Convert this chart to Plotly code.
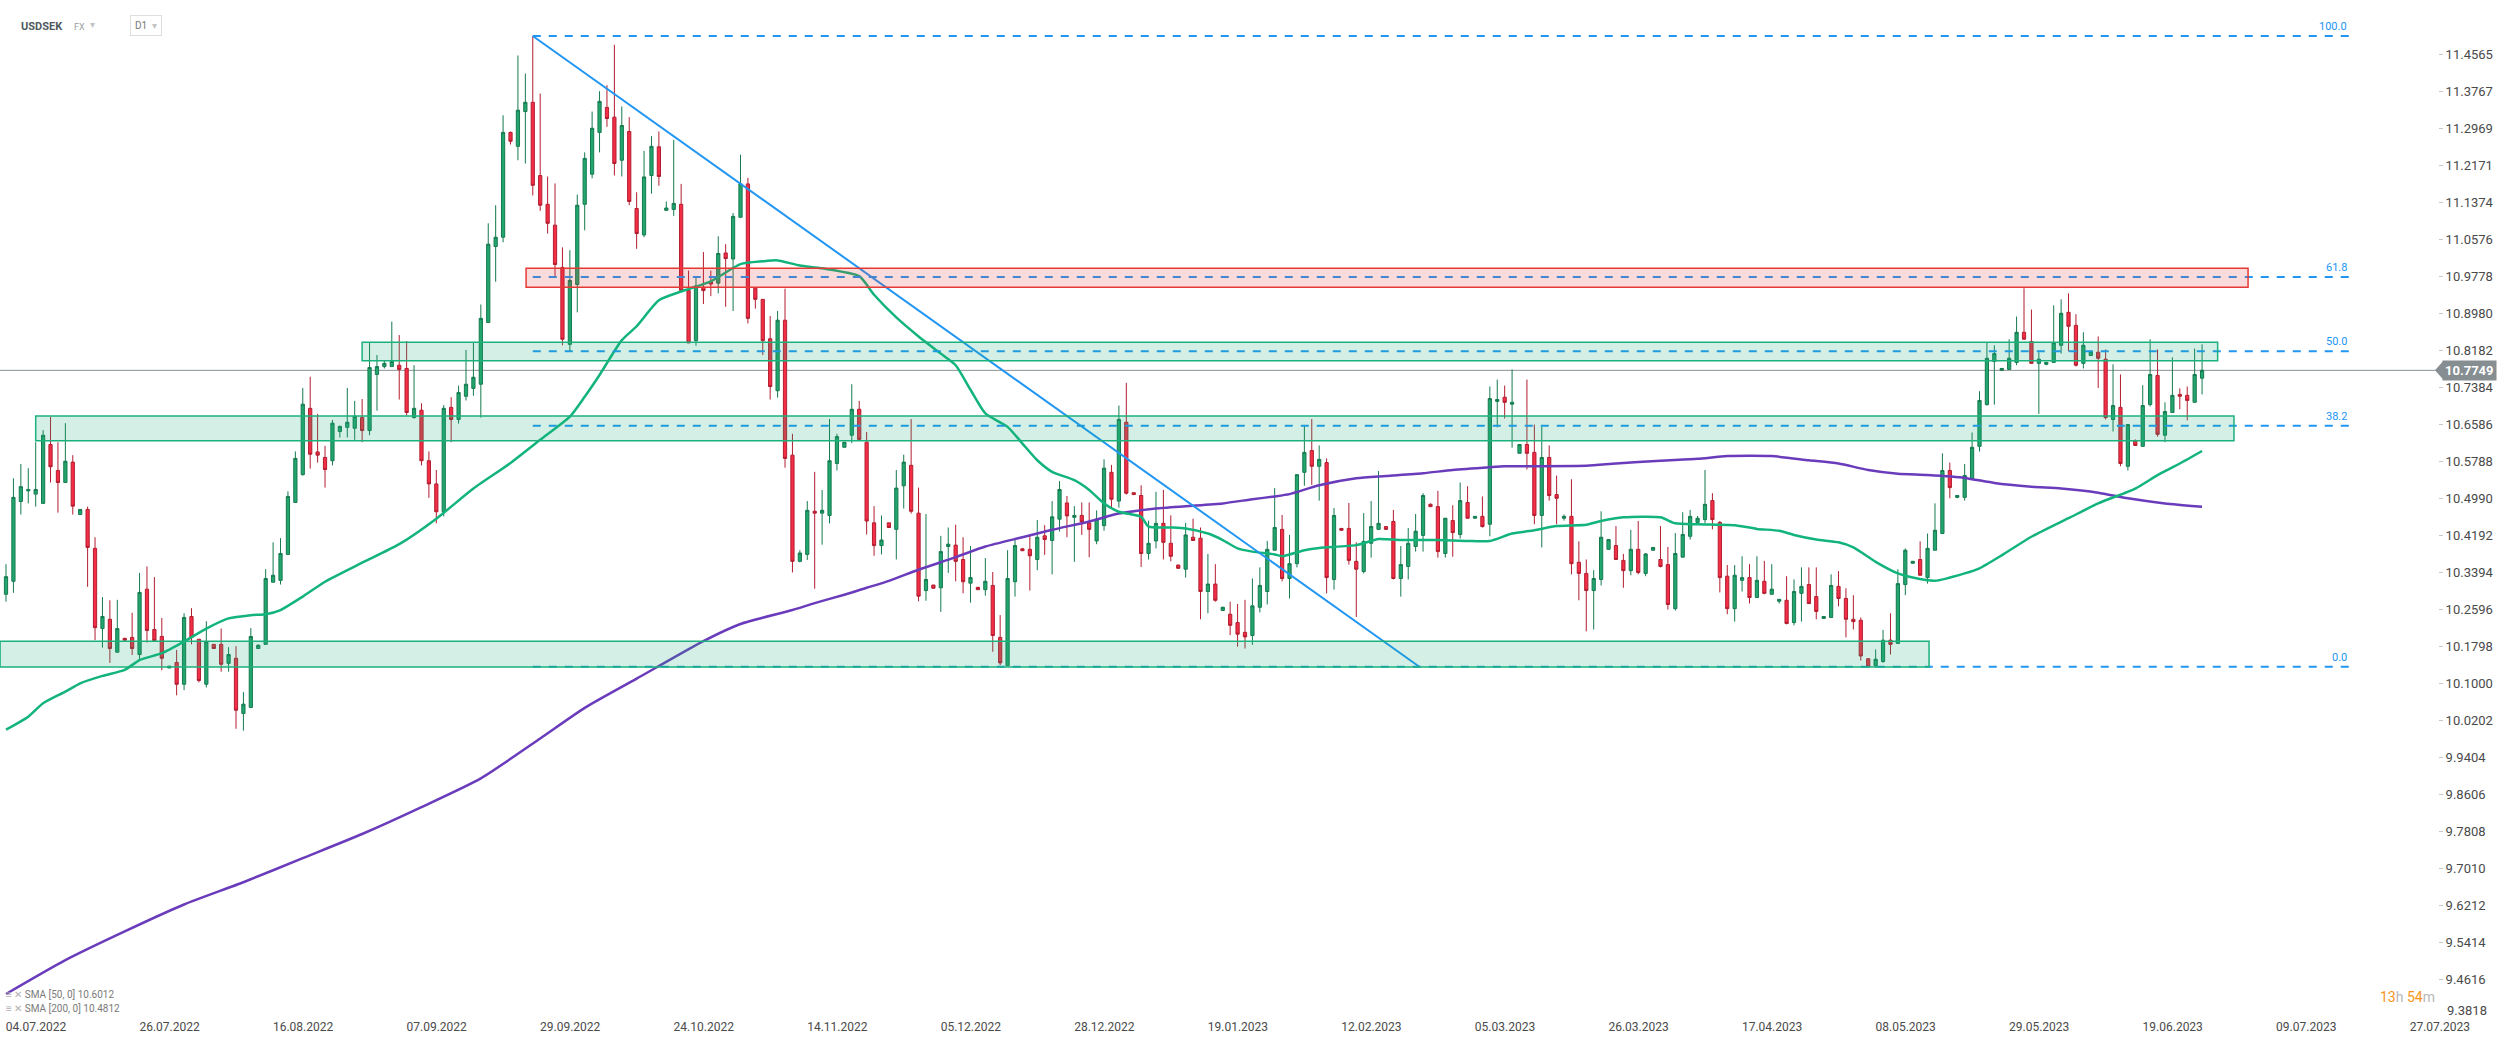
import plotly.graph_objects as go

# ---------------- data ----------------
symbol = "USDSEK"
market = "FX"
interval = "D1"

opens = [
    10.292, 10.320, 10.492, 10.515, 10.508, 10.488, 10.615, 10.559, 10.533, 10.577,
    10.464, 10.475, 10.391, 10.218, 10.238, 10.167, 10.197, 10.199, 10.162, 10.303,
    10.216, 10.201, 10.133, 10.145, 10.098, 10.244, 10.195, 10.098, 10.184, 10.184,
    10.143, 10.154, 10.035, 10.048, 10.175, 10.184, 10.318, 10.322, 10.378, 10.490,
    10.550, 10.693, 10.599, 10.587, 10.580, 10.643, 10.652, 10.650, 10.673, 10.645,
    10.766, 10.783, 10.783, 10.786, 10.779, 10.673, 10.689, 10.580, 10.530, 10.470,
    10.695, 10.669, 10.719, 10.736, 10.745, 10.878, 11.042, 11.062, 11.288, 11.258,
    11.333, 11.353, 11.195, 11.133, 11.088, 10.997, 10.831, 10.960, 11.133, 11.198,
    11.288, 11.342, 11.321, 11.228, 11.290, 11.124, 11.067, 11.195, 11.257, 11.120,
    11.122, 11.133, 10.947, 10.839, 10.954, 10.966, 10.963, 11.028, 11.015, 11.105,
    11.177, 10.952, 10.928, 10.843, 10.731, 10.883, 10.592, 10.363, 10.378, 10.471,
    10.467, 10.462, 10.574, 10.609, 10.635, 10.691, 10.620, 10.446, 10.397, 10.446,
    10.432, 10.526, 10.570, 10.467, 10.300, 10.312, 10.306, 10.395, 10.398, 10.367,
    10.316, 10.307, 10.302, 10.311, 10.199, 10.138, 10.319, 10.390, 10.389, 10.367,
    10.418, 10.408, 10.454, 10.489, 10.458, 10.462, 10.446, 10.407, 10.440, 10.555,
    10.493, 10.663, 10.511, 10.505, 10.380, 10.407, 10.445, 10.402, 10.355, 10.346,
    10.415, 10.413, 10.298, 10.314, 10.257, 10.249, 10.231, 10.210, 10.203, 10.264,
    10.298, 10.387, 10.432, 10.326, 10.358, 10.555, 10.602, 10.568, 10.576, 10.324,
    10.434, 10.434, 10.363, 10.341, 10.402, 10.432, 10.438, 10.449, 10.326, 10.352,
    10.395, 10.419, 10.486, 10.481, 10.380, 10.451, 10.421, 10.490, 10.456, 10.460,
    10.443, 10.708, 10.717, 10.702, 10.596, 10.615, 10.598, 10.462, 10.587, 10.507,
    10.456, 10.460, 10.361, 10.337, 10.300, 10.324, 10.389, 10.397, 10.365, 10.343,
    10.389, 10.337, 10.387, 10.367, 10.356, 10.261, 10.372, 10.417, 10.447, 10.453,
    10.494, 10.447, 10.331, 10.261, 10.322, 10.328, 10.285, 10.320, 10.292, 10.277,
    10.279, 10.231, 10.294, 10.313, 10.287, 10.240, 10.242, 10.309, 10.283, 10.238,
    10.236, 10.153, 10.138, 10.147, 10.193, 10.186, 10.313, 10.359, 10.367, 10.328,
    10.387, 10.423, 10.559, 10.501, 10.501, 10.540, 10.611, 10.701, 10.794, 10.775,
    10.777, 10.792, 10.857, 10.837, 10.790, 10.788, 10.792, 10.829, 10.900, 10.872,
    10.790, 10.807, 10.814, 10.799, 10.669, 10.695, 10.568, 10.622, 10.611, 10.701,
    10.764, 10.635, 10.684, 10.723, 10.721, 10.706, 10.758,
]

highs = [
    10.357, 10.542, 10.573, 10.564, 10.620, 10.646, 10.675, 10.620, 10.661, 10.592,
    10.475, 10.481, 10.415, 10.286, 10.279, 10.280, 10.198, 10.252, 10.338, 10.352,
    10.329, 10.241, 10.137, 10.172, 10.251, 10.262, 10.195, 10.234, 10.184, 10.218,
    10.178, 10.180, 10.081, 10.219, 10.184, 10.346, 10.404, 10.413, 10.514, 10.600,
    10.737, 10.761, 10.681, 10.612, 10.668, 10.656, 10.737, 10.709, 10.713, 10.834,
    10.808, 10.795, 10.880, 10.851, 10.838, 10.786, 10.704, 10.600, 10.560, 10.700,
    10.717, 10.742, 10.819, 10.835, 10.917, 11.092, 11.131, 11.325, 11.290, 11.454,
    11.415, 11.496, 11.372, 11.193, 11.178, 11.040, 11.034, 11.154, 11.245, 11.333,
    11.377, 11.390, 11.477, 11.344, 11.321, 11.159, 11.248, 11.280, 11.290, 11.139,
    11.272, 11.177, 10.990, 10.977, 11.030, 10.990, 11.064, 11.047, 11.114, 11.240,
    11.190, 10.952, 10.928, 10.892, 10.903, 10.951, 10.638, 10.387, 10.493, 10.556,
    10.517, 10.670, 10.638, 10.620, 10.745, 10.709, 10.642, 10.482, 10.462, 10.446,
    10.560, 10.593, 10.670, 10.522, 10.465, 10.312, 10.418, 10.436, 10.442, 10.415,
    10.396, 10.308, 10.370, 10.340, 10.247, 10.387, 10.409, 10.392, 10.420, 10.452,
    10.441, 10.493, 10.536, 10.504, 10.482, 10.490, 10.490, 10.473, 10.583, 10.571,
    10.699, 10.748, 10.511, 10.527, 10.451, 10.513, 10.517, 10.462, 10.356, 10.446,
    10.455, 10.436, 10.379, 10.357, 10.265, 10.276, 10.271, 10.280, 10.326, 10.350,
    10.407, 10.521, 10.463, 10.420, 10.550, 10.656, 10.670, 10.613, 10.585, 10.478,
    10.435, 10.489, 10.404, 10.467, 10.493, 10.558, 10.439, 10.474, 10.396, 10.435,
    10.465, 10.510, 10.488, 10.515, 10.456, 10.484, 10.533, 10.525, 10.460, 10.503,
    10.740, 10.755, 10.742, 10.777, 10.615, 10.755, 10.658, 10.654, 10.613, 10.548,
    10.464, 10.540, 10.406, 10.367, 10.344, 10.471, 10.411, 10.439, 10.379, 10.431,
    10.450, 10.381, 10.394, 10.439, 10.394, 10.424, 10.469, 10.474, 10.461, 10.560,
    10.510, 10.450, 10.355, 10.355, 10.374, 10.357, 10.374, 10.364, 10.357, 10.281,
    10.331, 10.324, 10.350, 10.350, 10.350, 10.245, 10.335, 10.342, 10.305, 10.290,
    10.242, 10.153, 10.173, 10.215, 10.251, 10.346, 10.391, 10.364, 10.406, 10.423,
    10.488, 10.596, 10.576, 10.506, 10.573, 10.641, 10.730, 10.835, 10.829, 10.780,
    10.842, 10.891, 10.952, 10.906, 10.814, 10.793, 10.915, 10.928, 10.941, 10.896,
    10.857, 10.816, 10.848, 10.820, 10.788, 10.766, 10.658, 10.626, 10.743, 10.842,
    10.820, 10.706, 10.803, 10.736, 10.740, 10.822, 10.831,
]

lows = [
    10.276, 10.295, 10.464, 10.488, 10.481, 10.488, 10.533, 10.468, 10.533, 10.464,
    10.464, 10.308, 10.193, 10.177, 10.144, 10.167, 10.192, 10.161, 10.149, 10.188,
    10.192, 10.128, 10.133, 10.074, 10.085, 10.184, 10.102, 10.091, 10.175, 10.125,
    10.125, 10.002, 9.998, 10.048, 10.175, 10.184, 10.318, 10.313, 10.378, 10.490,
    10.548, 10.563, 10.576, 10.522, 10.570, 10.630, 10.630, 10.625, 10.620, 10.635,
    10.688, 10.779, 10.783, 10.712, 10.678, 10.671, 10.570, 10.500, 10.445, 10.460,
    10.620, 10.660, 10.710, 10.720, 10.673, 10.878, 10.966, 11.051, 11.262, 11.228,
    11.221, 11.152, 11.119, 11.070, 10.975, 10.829, 10.816, 10.900, 11.077, 11.189,
    11.245, 11.300, 11.195, 11.193, 11.131, 11.037, 11.062, 11.156, 11.173, 11.120,
    11.108, 10.947, 10.834, 10.828, 10.918, 10.935, 10.941, 10.912, 10.903, 11.105,
    10.876, 10.908, 10.808, 10.712, 10.716, 10.565, 10.339, 10.361, 10.366, 10.304,
    10.399, 10.445, 10.559, 10.609, 10.618, 10.626, 10.421, 10.375, 10.378, 10.436,
    10.367, 10.477, 10.466, 10.277, 10.278, 10.305, 10.254, 10.338, 10.320, 10.294,
    10.274, 10.301, 10.289, 10.168, 10.139, 10.138, 10.287, 10.385, 10.300, 10.344,
    10.377, 10.335, 10.427, 10.415, 10.362, 10.420, 10.372, 10.400, 10.429, 10.476,
    10.479, 10.507, 10.507, 10.351, 10.367, 10.391, 10.367, 10.363, 10.347, 10.328,
    10.408, 10.238, 10.251, 10.276, 10.256, 10.204, 10.179, 10.175, 10.183, 10.253,
    10.270, 10.387, 10.320, 10.283, 10.350, 10.526, 10.528, 10.494, 10.294, 10.302,
    10.429, 10.356, 10.243, 10.337, 10.371, 10.432, 10.431, 10.324, 10.287, 10.324,
    10.384, 10.384, 10.481, 10.371, 10.371, 10.373, 10.412, 10.456, 10.456, 10.436,
    10.417, 10.652, 10.671, 10.608, 10.596, 10.561, 10.443, 10.393, 10.494, 10.443,
    10.451, 10.335, 10.279, 10.212, 10.216, 10.311, 10.388, 10.367, 10.306, 10.333,
    10.335, 10.331, 10.386, 10.350, 10.259, 10.257, 10.372, 10.410, 10.447, 10.445,
    10.432, 10.296, 10.249, 10.233, 10.298, 10.272, 10.285, 10.292, 10.292, 10.272,
    10.227, 10.225, 10.233, 10.272, 10.238, 10.239, 10.242, 10.266, 10.199, 10.216,
    10.149, 10.136, 10.134, 10.144, 10.162, 10.186, 10.290, 10.358, 10.333, 10.315,
    10.387, 10.423, 10.499, 10.499, 10.494, 10.540, 10.600, 10.699, 10.701, 10.774,
    10.777, 10.786, 10.842, 10.790, 10.681, 10.786, 10.792, 10.811, 10.816, 10.783,
    10.779, 10.807, 10.737, 10.669, 10.643, 10.568, 10.559, 10.613, 10.611, 10.697,
    10.632, 10.620, 10.684, 10.691, 10.667, 10.706, 10.723,
]

closes = [
    10.330, 10.501, 10.524, 10.518, 10.518, 10.635, 10.567, 10.533, 10.579, 10.482,
    10.475, 10.393, 10.220, 10.244, 10.175, 10.218, 10.193, 10.175, 10.296, 10.214,
    10.192, 10.154, 10.137, 10.098, 10.242, 10.199, 10.106, 10.190, 10.175, 10.141,
    10.162, 10.042, 10.055, 10.201, 10.182, 10.326, 10.333, 10.380, 10.503, 10.585,
    10.702, 10.594, 10.592, 10.561, 10.661, 10.654, 10.663, 10.676, 10.645, 10.781,
    10.783, 10.790, 10.794, 10.777, 10.684, 10.693, 10.580, 10.530, 10.470, 10.693,
    10.669, 10.727, 10.745, 10.760, 10.887, 11.047, 11.062, 11.288, 11.269, 11.336,
    11.353, 11.174, 11.131, 11.092, 11.003, 10.842, 10.969, 11.131, 11.232, 11.297,
    11.355, 11.318, 11.221, 11.303, 11.139, 11.070, 11.192, 11.258, 11.193, 11.125,
    11.135, 10.947, 10.834, 10.957, 10.947, 10.961, 11.027, 11.016, 11.107, 11.177,
    10.887, 10.928, 10.839, 10.740, 10.883, 10.585, 10.363, 10.381, 10.473, 10.467,
    10.473, 10.580, 10.632, 10.620, 10.691, 10.626, 10.450, 10.397, 10.409, 10.436,
    10.521, 10.577, 10.471, 10.288, 10.324, 10.305, 10.384, 10.400, 10.363, 10.319,
    10.328, 10.302, 10.320, 10.203, 10.144, 10.326, 10.397, 10.386, 10.375, 10.415,
    10.410, 10.459, 10.518, 10.461, 10.462, 10.448, 10.432, 10.454, 10.564, 10.497,
    10.669, 10.510, 10.507, 10.380, 10.402, 10.445, 10.404, 10.374, 10.348, 10.420,
    10.408, 10.298, 10.314, 10.279, 10.264, 10.225, 10.206, 10.200, 10.267, 10.311,
    10.389, 10.436, 10.326, 10.358, 10.550, 10.598, 10.568, 10.583, 10.328, 10.462,
    10.430, 10.365, 10.346, 10.406, 10.438, 10.445, 10.432, 10.326, 10.356, 10.402,
    10.428, 10.505, 10.481, 10.384, 10.456, 10.425, 10.494, 10.456, 10.460, 10.438,
    10.714, 10.712, 10.706, 10.706, 10.615, 10.596, 10.462, 10.587, 10.505, 10.499,
    10.460, 10.358, 10.337, 10.300, 10.326, 10.415, 10.410, 10.367, 10.343, 10.389,
    10.339, 10.379, 10.393, 10.352, 10.270, 10.380, 10.421, 10.460, 10.456, 10.486,
    10.453, 10.328, 10.261, 10.333, 10.328, 10.285, 10.322, 10.294, 10.303, 10.281,
    10.229, 10.298, 10.309, 10.272, 10.255, 10.244, 10.311, 10.283, 10.238, 10.233,
    10.159, 10.136, 10.152, 10.193, 10.184, 10.315, 10.387, 10.363, 10.333, 10.391,
    10.430, 10.559, 10.522, 10.505, 10.548, 10.609, 10.710, 10.801, 10.811, 10.779,
    10.801, 10.857, 10.842, 10.790, 10.799, 10.792, 10.835, 10.898, 10.870, 10.786,
    10.829, 10.816, 10.801, 10.673, 10.699, 10.574, 10.658, 10.613, 10.699, 10.766,
    10.637, 10.686, 10.721, 10.719, 10.710, 10.766, 10.775,
]

# moving averages, sampled off the chart (bar index, value)
sma50_bars = [0, 3, 5, 8, 10, 13, 16, 18, 21, 24, 27, 30, 33, 35, 37, 40, 43, 48, 53, 58,
              63, 68, 72, 76, 78, 80, 83, 85, 88, 91, 95, 99, 102, 104, 107, 110, 115, 117, 120, 123,
              126, 128, 130, 132, 135, 137, 139, 141, 144, 146, 148, 150, 153, 154, 157, 159, 162, 164, 166, 168,
              171, 172, 175, 177, 182, 185, 188, 193, 197, 200, 203, 206, 209, 213, 215, 218, 223, 225, 228, 233,
              236, 239, 241, 244, 247, 249, 252, 255, 257, 260, 264, 266, 269, 273, 278, 282, 287, 290, 293, 296]
sma50_vals = [10.000, 10.028, 10.057, 10.082, 10.100, 10.116, 10.129, 10.150, 10.165, 10.190,
              10.218, 10.240, 10.247, 10.249, 10.258, 10.287, 10.319, 10.360, 10.400, 10.455,
              10.520, 10.575, 10.625, 10.675, 10.718, 10.765, 10.840, 10.870, 10.926, 10.945,
              10.967, 11.004, 11.010, 11.012, 11.001, 10.995, 10.978, 10.938, 10.889, 10.848,
              10.811, 10.786, 10.733, 10.682, 10.653, 10.617, 10.581, 10.556, 10.538, 10.517,
              10.488, 10.470, 10.459, 10.438, 10.436, 10.434, 10.423, 10.409, 10.391, 10.384,
              10.378, 10.374, 10.387, 10.392, 10.398, 10.411, 10.409, 10.409, 10.407, 10.407,
              10.423, 10.430, 10.439, 10.442, 10.450, 10.458, 10.458, 10.445, 10.443, 10.441,
              10.433, 10.429, 10.420, 10.410, 10.404, 10.393, 10.362, 10.337, 10.328, 10.321,
              10.337, 10.348, 10.376, 10.416, 10.456, 10.488, 10.520, 10.549, 10.574, 10.601]

sma200_bars = [0, 8, 16, 24, 32, 40, 48, 56, 64, 72, 78, 85, 94, 99, 106, 109, 113, 116, 119, 123,
               128, 132, 137, 141, 146, 150, 155, 159, 164, 168, 171, 173, 177, 182, 186, 191, 195, 200, 202, 213,
               217, 223, 228, 232, 238, 243, 247, 251, 255, 259, 264, 268, 273, 277, 282, 286, 291, 296]
sma200_vals = [9.430, 9.503, 9.565, 9.623, 9.671, 9.723, 9.775, 9.833, 9.895, 9.981,
               10.047, 10.110, 10.191, 10.228, 10.258, 10.273, 10.291, 10.306, 10.321, 10.345,
               10.372, 10.395, 10.415, 10.431, 10.449, 10.466, 10.477, 10.482, 10.488, 10.497,
               10.503, 10.508, 10.527, 10.542, 10.547, 10.553, 10.560, 10.566, 10.568, 10.569,
               10.574, 10.580, 10.584, 10.590, 10.590, 10.581, 10.574, 10.560, 10.552, 10.549,
               10.543, 10.532, 10.524, 10.520, 10.511, 10.499, 10.488, 10.481]

sma50_label = "SMA [50, 0] 10.6012"
sma200_label = "SMA [200, 0] 10.4812"

# Fibonacci retracement drawn on the chart
fib_high = 11.496
fib_low = 10.1358
fib_ratios = [1.0, 0.618, 0.5, 0.382, 0.0]
fib_labels = ["100.0", "61.8", "50.0", "38.2", "0.0"]
fib_start_bar = 71
fib_end_bar = 315.8

# descending trend line (bar, price)
trend_bars = [71, 190.5]
trend_prices = [11.496, 10.1358]

# horizontal zones
zone_start = [-0.8, 4.0, 48.0, 70.1]
zone_end = [259.2, 300.3, 298.1, 302.2]
zone_low = [10.1350, 10.6233, 10.7957, 10.954]
zone_high = [10.1905, 10.6765, 10.8354, 10.995]
zone_kind = ["support", "support", "support", "resistance"]

last_price = 10.7749
countdown = ("13", "54")

price_tick_text = ["9.4616", "9.5414", "9.6212", "9.7010", "9.7808", "9.8606", "9.9404",
                   "10.0202", "10.1000", "10.1798", "10.2596", "10.3394", "10.4192", "10.4990",
                   "10.5788", "10.6586", "10.7384", "10.8182", "10.8980", "10.9778", "11.0576",
                   "11.1374", "11.2171", "11.2969", "11.3767", "11.4565"]
bottom_tick_text = "9.3818"

date_labels = ["04.07.2022", "26.07.2022", "16.08.2022", "07.09.2022", "29.09.2022",
               "24.10.2022", "14.11.2022", "05.12.2022", "28.12.2022", "19.01.2023",
               "12.02.2023", "05.03.2023", "26.03.2023", "17.04.2023", "08.05.2023",
               "29.05.2023", "19.06.2023", "09.07.2023", "27.07.2023"]
bars_per_label = 18

# ---------------- figure ----------------
bars = list(range(len(closes)))
FONT = "Roboto, 'Open Sans', sans-serif"
FIB_BLUE = "#2196f3"

fig = go.Figure()

fig.add_trace(go.Candlestick(
    x=bars, open=opens, high=highs, low=lows, close=closes,
    increasing=dict(fillcolor="#22a66e", line=dict(color="#157a4f", width=1)),
    decreasing=dict(fillcolor="#f42e46", line=dict(color="#b21d2f", width=1)),
    whiskerwidth=0, hoverinfo="skip", showlegend=False,
))

fig.add_trace(go.Scatter(x=sma200_bars, y=sma200_vals, mode="lines", hoverinfo="skip",
                         line=dict(color="#6a3cbc", width=2.5, shape="spline", smoothing=0.6)))
fig.add_trace(go.Scatter(x=sma50_bars, y=sma50_vals, mode="lines", hoverinfo="skip",
                         line=dict(color="#12b47c", width=2.5, shape="spline", smoothing=0.6)))

for ratio, lab in zip(fib_ratios, fib_labels):
    lvl = fib_low + ratio * (fib_high - fib_low)
    fig.add_trace(go.Scatter(x=[fib_start_bar, fib_end_bar], y=[lvl, lvl], mode="lines",
                             hoverinfo="skip",
                             line=dict(color=FIB_BLUE, width=2, dash="8px,8px")))
    fig.add_annotation(x=fib_end_bar, y=lvl, text=lab, showarrow=False,
                       xanchor="right", yanchor="bottom", yshift=1,
                       font=dict(family=FONT, size=11, color=FIB_BLUE))

fig.add_trace(go.Scatter(x=trend_bars, y=trend_prices, mode="lines", hoverinfo="skip",
                         line=dict(color=FIB_BLUE, width=2)))

# current price line
fig.add_shape(type="line", xref="paper", x0=0, x1=1, yref="y", y0=last_price, y1=last_price,
              line=dict(color="#8a9296", width=1), layer="below")

# zones (drawn over the candles, semi-transparent)
for x0, x1, lo, hi, kind in zip(zone_start, zone_end, zone_low, zone_high, zone_kind):
    if kind == "resistance":
        fill, edge = "rgba(229,57,53,0.18)", "#e53935"
    else:
        fill, edge = "rgba(27,177,124,0.19)", "#1bb17c"
    fig.add_shape(type="rect", xref="x", yref="y", x0=x0, x1=x1, y0=lo, y1=hi,
                  fillcolor=fill, line=dict(color=edge, width=1.5), layer="above")

# price label on the axis
fig.add_shape(type="path", xref="paper", xsizemode="pixel", xanchor=1,
              yref="y", ysizemode="pixel", yanchor=last_price,
              path="M -3,0 L 5,-9 L 5,9 Z", fillcolor="#868e92", line=dict(width=0),
              layer="above")
fig.add_annotation(xref="paper", x=1, xanchor="left", xshift=4, yref="y", y=last_price,
                   text="<b>%.4f</b>" % last_price, showarrow=False, bgcolor="#868e92",
                   borderpad=2, font=dict(family=FONT, size=13, color="white"))

# lowest price tick label (shown slightly raised, as in the platform)
fig.add_annotation(xref="paper", x=1, xanchor="left", xshift=7, yref="y",
                   y=float(bottom_tick_text), yshift=6, text=bottom_tick_text, showarrow=False,
                   font=dict(family=FONT, size=13, color="#4a4a4a"))

# header
fig.add_annotation(xref="paper", yref="paper", x=0, y=1, xanchor="left", yanchor="middle",
                   xshift=19, yshift=-26, text="<b>%s</b>" % symbol, showarrow=False,
                   font=dict(family=FONT, size=11, color="#4f5a60"))
fig.add_annotation(xref="paper", yref="paper", x=0, y=1, xanchor="left", yanchor="middle",
                   xshift=72, yshift=-27, text=market, showarrow=False,
                   font=dict(family=FONT, size=9, color="#9aa0a4"))
fig.add_annotation(xref="paper", yref="paper", x=0, y=1, xanchor="left", yanchor="middle",
                   xshift=88, yshift=-24, text="▾", showarrow=False,
                   font=dict(family="DejaVu Sans", size=10, color="#c4c4c4"))
fig.add_annotation(xref="paper", yref="paper", x=0, y=1, xanchor="left", yanchor="middle",
                   xshift=130, yshift=-25,
                   text='%s  <span style="color:#c4c4c4">▾</span>' % interval,
                   showarrow=False, bordercolor="#dedede", borderwidth=1, borderpad=4,
                   font=dict(family=FONT, size=10, color="#777"))

# indicator legend
for label, shift in ((sma50_label, 24), (sma200_label, 10)):
    fig.add_annotation(xref="paper", yref="paper", x=0, y=0, xanchor="left", yanchor="middle",
                       xshift=4, yshift=shift,
                       text='<span style="color:#b0b0b0">≡ ✕</span> ' + label,
                       showarrow=False, font=dict(family=FONT, size=10, color="#7a7a7a"))

# countdown
fig.add_annotation(xref="paper", yref="paper", x=1, y=0, xanchor="right", yanchor="middle",
                   xshift=-1, yshift=21, showarrow=False,
                   text=('<span style="color:#f7941d">%s</span><span style="color:#b8b8b8">h</span> '
                         '<span style="color:#f7941d">%s</span><span style="color:#b8b8b8">m</span>'
                         % countdown),
                   font=dict(family=FONT, size=14))

fig.update_layout(
    width=2506, height=1041,
    margin=dict(l=0, r=68, t=0, b=23),
    paper_bgcolor="white", plot_bgcolor="white",
    showlegend=False, boxgap=0.38,
    font=dict(family=FONT),
)
fig.update_xaxes(
    range=[-0.81, 327.8],
    tickvals=[k * bars_per_label for k in range(len(date_labels))],
    ticktext=date_labels, ticklabelshift=30,
    ticks="", showgrid=False, zeroline=False, showline=False,
    tickfont=dict(family=FONT, size=12, color="#4a4a4a"),
    rangeslider=dict(visible=False),
)
fig.update_yaxes(
    side="right", range=[9.3782, 11.5736],
    tickvals=[float(t) for t in price_tick_text], ticktext=price_tick_text,
    ticks="outside", ticklen=4, tickcolor="#c8c8c8",
    showgrid=False, zeroline=False, showline=False,
    tickfont=dict(family=FONT, size=13, color="#4a4a4a"),
)

fig.write_html("out.html", config={"displayModeBar": False},
               post_script="document.body.style.margin='0';document.body.style.overflow='hidden';")
